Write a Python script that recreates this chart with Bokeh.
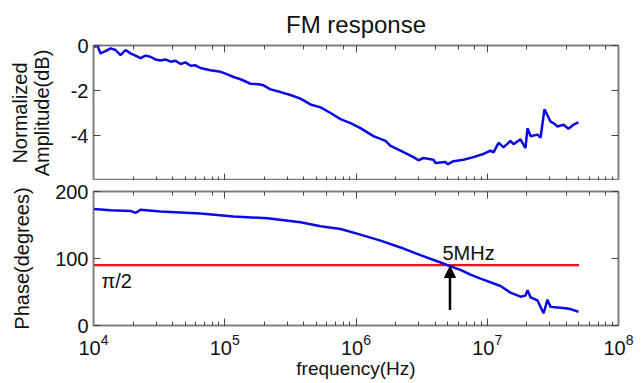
from bokeh.plotting import figure
from bokeh.models import (LogAxis, LinearAxis, FixedTicker, Range1d, Label,
                          Arrow, NormalHead)
from bokeh.layouts import column
from bokeh.embed import file_html
from bokeh.resources import INLINE

# ---------------- data ----------------
amp_log10_freq = [4.000, 4.030, 4.053, 4.091, 4.130, 4.168, 4.206, 4.244, 4.282, 4.320,
                  4.358, 4.396, 4.434, 4.472, 4.510, 4.549, 4.587, 4.625, 4.663, 4.701,
                  4.739, 4.777, 4.815, 4.891, 4.968, 5.006, 5.067, 5.120, 5.196, 5.257,
                  5.295, 5.349, 5.425, 5.501, 5.577, 5.653, 5.730, 5.806, 5.882, 5.958,
                  6.034, 6.133, 6.225, 6.263, 6.339, 6.438, 6.476, 6.514, 6.590, 6.606,
                  6.682, 6.697, 6.743, 6.819, 6.895, 6.971, 7.025, 7.048, 7.086, 7.124,
                  7.177, 7.200, 7.253, 7.291, 7.307, 7.330, 7.383, 7.406, 7.436, 7.482,
                  7.505, 7.535, 7.581, 7.619, 7.657, 7.695]
amp_db = [-0.07, 0.0, -0.35, -0.25, -0.13, -0.20, -0.43, -0.20, -0.35, -0.45,
          -0.56, -0.45, -0.50, -0.62, -0.67, -0.62, -0.72, -0.68, -0.82, -0.75,
          -0.90, -0.88, -1.00, -1.10, -1.17, -1.25, -1.40, -1.50, -1.70, -1.72,
          -1.77, -1.95, -2.07, -2.20, -2.36, -2.62, -2.75, -3.00, -3.27, -3.45,
          -3.67, -4.03, -4.24, -4.46, -4.67, -4.96, -5.10, -5.00, -5.08, -5.22,
          -5.18, -5.28, -5.14, -5.08, -4.96, -4.82, -4.67, -4.75, -4.32, -4.53,
          -4.24, -4.39, -4.17, -4.56, -3.67, -4.03, -3.96, -4.10, -2.83, -3.38,
          -3.45, -3.60, -3.52, -3.70, -3.52, -3.42]

phase_log10_freq = [4.000, 4.130, 4.282, 4.320, 4.358, 4.510, 4.815, 5.067, 5.326, 5.577,
                    5.730, 5.882, 6.034, 6.187, 6.339, 6.491, 6.644, 6.697, 6.796, 6.872,
                    6.949, 7.101, 7.177, 7.253, 7.291, 7.307, 7.330, 7.383, 7.429, 7.459,
                    7.482, 7.535, 7.581, 7.634, 7.695]
phase_deg = [174, 172, 171, 168, 172.7, 170, 167, 162.6, 160, 154,
             148, 144, 135.7, 126.6, 116.5, 105, 94, 90, 83, 76,
             70, 59, 49, 43, 44.6, 52.8, 42, 37.4, 18.3, 38.5,
             27.8, 27, 26, 24.5, 20.6]

ref_line_freq = [1e4, 5e7]
ref_line_deg = [90, 90]

amp_ticks = [-4, -2, 0]
amp_tick_labels = {-4: "-4", -2: "-2", 0: "0"}
phase_ticks = [0, 100, 200]

marker_freq = 5.2e6
arrow_from_deg = 23
arrow_to_deg = 88

title_text = "FM response"
amp_label = "Normalized\nAmplitude(dB)"
phase_label = "Phase(degrees)"
x_label = "frequency(Hz)"
pi_label = "π/2"
mhz_label = "5MHz"

amp_freq = [10 ** v for v in amp_log10_freq]
phase_freq = [10 ** v for v in phase_log10_freq]

# ---------------- style ----------------
FONT = "Liberation Sans"
BLUE = "#0a0ae6"
RED = "#e8141c"
GREY = "#7a7a7a"
TICK_FS = "20px"


def style_axis(ax, labels=True):
    ax.axis_line_color = GREY
    ax.axis_line_width = 1.5
    ax.major_tick_line_color = "#444444"
    ax.minor_tick_line_color = "#444444"
    ax.major_tick_in = 7
    ax.major_tick_out = 0
    ax.minor_tick_in = 4
    ax.minor_tick_out = 0
    ax.major_label_text_font = FONT
    ax.major_label_text_color = "#111111"
    ax.axis_label_text_font = FONT
    ax.axis_label_text_font_style = "normal"
    ax.axis_label_text_color = "#111111"
    if labels:
        ax.major_label_text_font_size = TICK_FS
    else:
        ax.major_label_text_font_size = "1px"
        ax.major_label_text_alpha = 0
        ax.major_label_standoff = 0


xr = Range1d(1e4, 1e8)

# ---------------- top figure ----------------
p1 = figure(frame_width=525, frame_height=135, x_axis_type="log", x_range=xr,
            y_range=Range1d(-6, 0), output_backend="svg", toolbar_location=None,
            min_border_left=93, min_border_right=25,
            min_border_top=45, min_border_bottom=0)
p1.title.text = title_text
p1.title.align = "center"
p1.title.text_font = FONT
p1.title.text_font_size = "24px"
p1.title.text_font_style = "normal"
p1.title.text_color = "#111111"
p1.title.standoff = 15
p1.grid.visible = False
p1.outline_line_color = GREY
p1.outline_line_width = 1.5
p1.border_fill_color = "white"

p1.yaxis.ticker = FixedTicker(ticks=amp_ticks)
p1.yaxis.major_label_overrides = amp_tick_labels
p1.yaxis.axis_label = amp_label
p1.yaxis.axis_label_text_font_size = "20px"
p1.yaxis.axis_label_text_line_height = 1.0
p1.yaxis.axis_label_standoff = 15
style_axis(p1.yaxis[0])
style_axis(p1.xaxis[0], labels=False)

top1 = LogAxis()
style_axis(top1, labels=False)
p1.add_layout(top1, "above")
right1 = LinearAxis(ticker=FixedTicker(ticks=amp_ticks))
style_axis(right1, labels=False)
p1.add_layout(right1, "right")

p1.line(amp_freq, amp_db, line_color=BLUE, line_width=2.5)

# ---------------- bottom figure ----------------
p2 = figure(frame_width=525, frame_height=134, x_axis_type="log", x_range=xr,
            y_range=Range1d(0, 200), output_backend="svg", toolbar_location=None,
            min_border_left=93, min_border_right=25, min_border_top=11,
            min_border_bottom=56)
p2.grid.visible = False
p2.outline_line_color = GREY
p2.outline_line_width = 1.5
p2.border_fill_color = "white"

p2.yaxis.ticker = FixedTicker(ticks=phase_ticks)
p2.yaxis.axis_label = phase_label
p2.yaxis.axis_label_text_font_size = "20px"
p2.yaxis.axis_label_standoff = 19
style_axis(p2.yaxis[0])
style_axis(p2.xaxis[0])
p2.xaxis.axis_label = x_label
p2.xaxis.axis_label_text_font_size = "19px"
p2.xaxis.axis_label_standoff = 0
p2.xaxis.major_label_standoff = 8

top2 = LogAxis()
style_axis(top2, labels=False)
p2.add_layout(top2, "above")
right2 = LinearAxis(ticker=FixedTicker(ticks=phase_ticks))
style_axis(right2, labels=False)
p2.add_layout(right2, "right")

p2.line(ref_line_freq, ref_line_deg, line_color=RED, line_width=2.2)
p2.line(phase_freq, phase_deg, line_color=BLUE, line_width=2.5)

p2.add_layout(Arrow(end=NormalHead(size=11, fill_color="black", line_color="black"),
                    x_start=marker_freq, y_start=arrow_from_deg,
                    x_end=marker_freq, y_end=arrow_to_deg,
                    line_color="black", line_width=2.5))
p2.add_layout(Label(x=1.15e4, y=67, text=pi_label, text_font=FONT,
                    text_font_size="20px", text_baseline="middle",
                    text_color="#111111"))
p2.add_layout(Label(x=4.56e6, y=108, text=mhz_label, text_font=FONT,
                    text_font_size="20px", text_baseline="alphabetic",
                    text_color="#111111"))

layout = column(p1, p2, spacing=0)
open("out.html", "w").write(file_html(layout, INLINE))
